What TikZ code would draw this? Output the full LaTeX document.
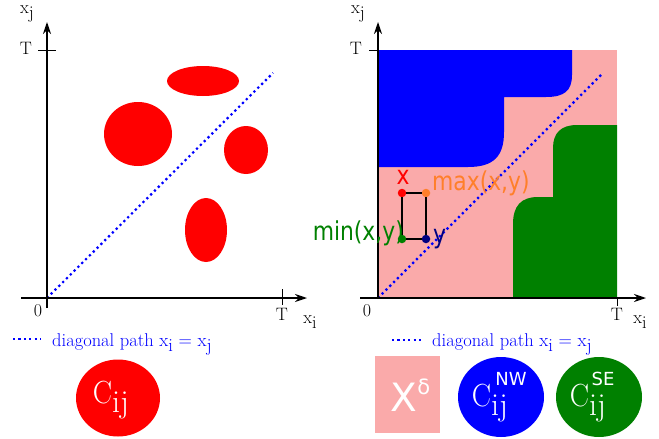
\documentclass[tikz,border=0pt]{standalone}
\usepackage{fontspec}
\newfontfamily\dejavu{DejaVu Sans}
\usetikzlibrary{arrows.meta,positioning,shapes.geometric}
\definecolor{pinkzone}{RGB}{250,170,170}
\definecolor{greenzone}{RGB}{0,128,0}
\definecolor{orangept}{RGB}{255,127,42}
\definecolor{navypt}{RGB}{0,0,128}
\newcommand{\lowsub}[2]{#1\raisebox{-0.28em}{#2}}
\newcommand{\squeeze}[1]{\scalebox{0.84}[1]{#1}}
\tikzset{
    axisarrow/.style={
        line width=1.4pt,
        black,
        -{Stealth[length=12pt, width=8pt]}
    },
    diagpath/.style={
        line width=2.2pt,
        blue,
        dash pattern=on 2.2pt off 3.2pt
    },
    tickmark/.style={line width=1pt},
    axislabel/.style={font=\fontsize{18}{18}\selectfont, inner sep=0pt},
    cornerdot/.style={circle, inner sep=0pt, minimum size=8.5pt},
    rectside/.style={line width=2.2pt, black},
    pointlabel/.style={font=\fontsize{26}{26}\dejavu, inner sep=0pt},
    legendtext/.style={blue, font=\fontsize{18.5}{18.5}\selectfont, inner sep=0pt, anchor=base west},
    legendblob/.style={ellipse, inner sep=0pt, minimum width=86pt, minimum height=80pt},
    blobtext/.style={text=white, inner sep=0pt, font=\fontsize{32}{32}\selectfont},
    blobsup/.style={text=white, inner sep=0pt, font=\fontsize{18}{18}\dejavu}
}
\begin{document}
\begin{tikzpicture}[x=1pt, y=-1pt]
    \useasboundingbox (0,0) rectangle (659,439);

    % left plot
    \fill[red] (203,81) ellipse [x radius=36pt, y radius=15pt];
    \fill[red] (138,134) ellipse [x radius=34pt, y radius=32pt];
    \fill[red] (246,150) ellipse [x radius=22pt, y radius=24pt];
    \fill[red] (206,230) ellipse [x radius=21pt, y radius=32pt];

    \coordinate (o1) at (47,298);
    \coordinate (d1) at (273,73);
    \draw[diagpath] (o1) -- (d1);
    \draw[axisarrow] (47,308) -- (47,22);
    \draw[axisarrow] (21,298) -- (307,298);
    \draw[tickmark] (38,50) -- (56,50);
    \draw[tickmark] (282,289) -- (282,305);
    \node[axislabel] (t1y) at (26,48) {T};
    \node[axislabel] (t1x) at (282,314) {T};
    \node[axislabel] (z1) at (38,311) {0};
    \node[axislabel] (xj1) at (27,14) {\lowsub{x}{j}};
    \node[axislabel] (xi1) at (310,322) {\lowsub{x}{i}};

    % right plot
    \fill[pinkzone] (378,50) rectangle (617,298);
    \fill[blue] (378,50) -- (572,50) -- (572,75)
        .. controls (572,91) and (564,97) .. (546,97) -- (504,97) -- (504,132)
        .. controls (504,156) and (494,167) .. (468,167) -- (378,167) -- cycle;
    \fill[greenzone] (513,298) -- (513,224)
        .. controls (513,206) and (521,197) .. (538,197) -- (553,197) -- (553,148)
        .. controls (553,133) and (561,125) .. (577,125) -- (617,125) -- (617,298) -- cycle;

    \coordinate (o2) at (378,298);
    \coordinate (d2) at (603,73);
    \draw[diagpath] (o2) -- (d2);
    \draw[axisarrow] (378,298) -- (378,22);
    \draw[axisarrow] (360,298) -- (646,298);
    \draw[tickmark] (369,50) -- (378,50);
    \draw[tickmark] (617,298) -- (617,306);
    \node[axislabel] (t2y) at (356,48) {T};
    \node[axislabel] (t2x) at (617,314) {T};
    \node[axislabel] (z2) at (367,311) {0};
    \node[axislabel] (xj2) at (358,14) {\lowsub{x}{j}};
    \node[axislabel] (xi2) at (640,322) {\lowsub{x}{i}};

    \node[cornerdot, fill=red] (px) at (402,193) {};
    \node[cornerdot, fill=orangept] (pmax) at (426,193) {};
    \node[cornerdot, fill=greenzone] (pmin) at (402,239) {};
    \node[cornerdot, fill=navypt] (py) at (426,239) {};
    \draw[rectside] (px) -- (pmax);
    \draw[rectside] (px) -- (pmin);
    \draw[rectside] (pmin) -- (py);
    \draw[rectside] (pmax) -- (py);
    \node[pointlabel, red] (lx) at (403,177) {\squeeze{x}};
    \node[pointlabel, orangept, anchor=west] (lmax) at (432,183) {\squeeze{max(x,y)}};
    \node[pointlabel, greenzone, anchor=east] (lmin) at (404,233) {\squeeze{min(x,y)}};
    \node[pointlabel, navypt, anchor=west] (ly) at (433,239) {\squeeze{y}};

    % legends
    \coordinate (l1a) at (13,339);
    \coordinate (l1b) at (41,339);
    \draw[diagpath] (l1a) -- (l1b);
    \node[legendtext] (leg1) at (52,346) {diagonal path \lowsub{x}{i} = \lowsub{x}{j}};
    \coordinate (l2a) at (392,340);
    \coordinate (l2b) at (421,340);
    \draw[diagpath] (l2a) -- (l2b);
    \node[legendtext] (leg2) at (432,346) {diagonal path \lowsub{x}{i} = \lowsub{x}{j}};

    \node[legendblob, fill=red, minimum width=84pt, minimum height=77pt] (cred) at (118,398) {};
    \node[blobtext] (credtext) at ([xshift=-7pt, yshift=-2pt]cred.center) {\scalebox{0.9}[1]{C}\lowsub{}{ij}};

    \node[rectangle, fill=pinkzone, minimum width=65pt, minimum height=77pt, inner sep=0pt] (xdelta) at (407.5,394.5) {};
    \node[text=white, inner sep=0pt, font=\fontsize{39}{39}\dejavu] (xdeltatext) at ([xshift=3pt, yshift=-1pt]xdelta.center) {X\raisebox{17pt}{\fontsize{21}{21}\selectfont δ}};

    \node[legendblob, fill=blue] (cnw) at (501,397) {};
    \node[blobtext] (cnwtext) at ([xshift=-11pt, yshift=-6pt]cnw.center) {\scalebox{0.9}[1]{C}\lowsub{}{ij}};
    \node[blobsup] (cnwsup) at ([xshift=10pt, yshift=18pt]cnw.center) {NW};

    \node[legendblob, fill=greenzone] (cse) at (599,397) {};
    \node[blobtext] (csetext) at ([xshift=-11pt, yshift=-6pt]cse.center) {\scalebox{0.9}[1]{C}\lowsub{}{ij}};
    \node[blobsup] (csesup) at ([xshift=4pt, yshift=18pt]cse.center) {SE};
\end{tikzpicture}
\end{document}
